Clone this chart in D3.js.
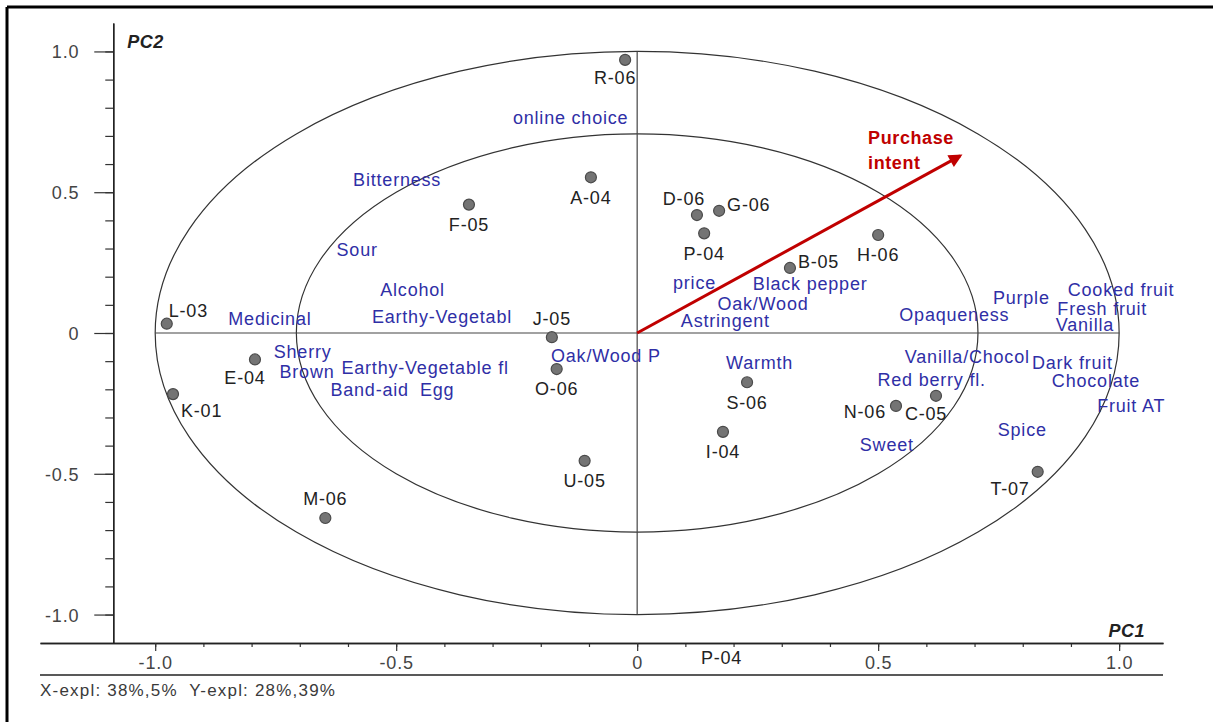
<!DOCTYPE html>
<html>
<head>
<meta charset="utf-8">
<script src="https://cdn.jsdelivr.net/npm/d3@7"></script>
<style>
  body { margin: 0; background: #fff; }
  svg text { font-family: "Liberation Sans", Arial, sans-serif; }
</style>
</head>
<body>
<svg id="chart" width="1213" height="722"></svg>
<script>
// samples (scores)
let sampleNames = ["R-06","A-04","F-05","D-06","G-06","P-04","H-06","B-05","L-03","E-04","K-01","M-06","J-05","O-06","U-05","S-06","I-04","N-06","C-05","T-07"];
let sampleX = [-0.025,-0.096,-0.349,0.124,0.170,0.139,0.500,0.317,-0.976,-0.793,-0.963,-0.647,-0.177,-0.167,-0.109,0.228,0.178,0.537,0.620,0.831];
let sampleY = [0.970,0.553,0.456,0.419,0.434,0.354,0.348,0.231,0.033,-0.094,-0.217,-0.657,-0.015,-0.128,-0.454,-0.175,-0.351,-0.259,-0.223,-0.493];
let samplePlace = ["bl","b","b","al","r","b","b","r","ur","bl","br","a","a","b","b","b","b","l","bl","bll"];

// attributes (loadings)
let attrNames = ["online choice","Bitterness","Sour","Alcohol","Earthy-Vegetabl","Medicinal","Sherry","Brown","Earthy-Vegetable fl","Band-aid","Egg","Oak/Wood P","price","Black pepper","Oak/Wood","Astringent","Warmth","Opaqueness","Purple","Cooked fruit","Fresh fruit","Vanilla","Vanilla/Chocol","Dark fruit","Red berry fl.","Chocolate","Fruit AT","Spice","Sweet"];
let attrX = [-0.138,-0.498,-0.581,-0.466,-0.405,-0.762,-0.694,-0.685,-0.440,-0.555,-0.415,-0.065,0.119,0.359,0.261,0.183,0.254,0.658,0.797,1.004,0.965,0.929,0.685,0.903,0.611,0.952,1.025,0.799,0.518];
let attrY = [0.766,0.544,0.295,0.153,0.058,0.052,-0.066,-0.137,-0.122,-0.202,-0.202,-0.082,0.177,0.174,0.105,0.043,-0.105,0.064,0.127,0.153,0.088,0.030,-0.084,-0.106,-0.165,-0.171,-0.259,-0.345,-0.395];

// purchase intent vector
let intent = {name: ["Purchase","intent"], x: 0.670, y: 0.629};
let radii = [1, Math.SQRT1_2];
let majorTicks = [-1, -0.5, 0, 0.5, 1];
let minorTicks = d3.range(-10, 11).map(d => d / 10);
let explText = "X-expl: 38%,5%  Y-expl: 28%,39%";

let svg = d3.select("#chart");
let x = d3.scaleLinear().domain([-1.239, 1.091]).range([40, 1163]);
let y = d3.scaleLinear().domain([-1.101, 1.101]).range([643, 23]);

let blue = "#2f2fa6", dark = "#222", grey = "#3a3a3a";
let fontSize = 18, spacing = 0.8;

// frame (only top and left edges visible)
svg.append("line").attr("x1",7).attr("y1",7).attr("x2",1213).attr("y2",7).attr("stroke","#000").attr("stroke-width",3);
svg.append("line").attr("x1",7).attr("y1",7).attr("x2",7).attr("y2",722).attr("stroke","#000").attr("stroke-width",3);

// axes
let yAxisX = x(-1.087), xAxisY = y(-1.101);
let yMinor = svg.append("g").attr("transform","translate("+yAxisX+",0)")
  .call(d3.axisLeft(y).tickValues(minorTicks).tickSize(8).tickSizeOuter(0).tickFormat(""));
let yMajor = svg.append("g").attr("transform","translate("+yAxisX+",0)")
  .call(d3.axisLeft(y).tickValues(majorTicks).tickSize(19).tickSizeOuter(0).tickPadding(15)
    .tickFormat(d => d === 0 ? "0" : d.toFixed(1)));
let xMinor = svg.append("g").attr("transform","translate(0,"+xAxisY+")")
  .call(d3.axisBottom(x).tickValues(minorTicks).tickSize(4).tickSizeOuter(0).tickFormat(""));
let xMajor = svg.append("g").attr("transform","translate(0,"+xAxisY+")")
  .call(d3.axisBottom(x).tickValues(majorTicks).tickSize(8).tickSizeOuter(0).tickPadding(5)
    .tickFormat(d => d === 0 ? "0" : d.toFixed(1)));
[yMinor,yMajor,xMinor,xMajor].forEach(function(g){
  g.selectAll("path.domain").attr("stroke","#222").attr("stroke-width",1.4);
  g.selectAll(".tick line").attr("stroke","#333").attr("stroke-width",1.2);
  g.selectAll(".tick text").attr("font-size",fontSize).attr("fill","#444")
    .attr("letter-spacing",spacing).attr("font-family","Liberation Sans, Arial, sans-serif");
});
yMajor.selectAll(".tick text").attr("dy","0.36em");

// separator under the x tick labels
svg.append("line").attr("x1",x.range()[0]).attr("x2",x.range()[1])
  .attr("y1",xAxisY+32).attr("y2",xAxisY+32).attr("stroke","#222").attr("stroke-width",1.4);
svg.append("text").attr("x",x.range()[0]).attr("y",xAxisY+53).attr("font-size",17)
  .attr("letter-spacing",1.2).attr("fill",grey).style("white-space","pre").text(explText);

// axis titles
svg.append("text").attr("x",yAxisX+14).attr("y",y(1.101)+25).attr("font-size",18)
  .attr("font-weight","bold").attr("font-style","italic").attr("letter-spacing",0.5).attr("fill",dark).text("PC2");
svg.append("text").attr("x",x.range()[1]-18).attr("y",xAxisY-6).attr("text-anchor","end").attr("font-size",18)
  .attr("font-weight","bold").attr("font-style","italic").attr("letter-spacing",0.5).attr("fill",dark).text("PC1");

// correlation ellipses
svg.selectAll(".ring").data(radii).enter().append("ellipse")
  .attr("class","ring")
  .attr("cx",x(0)).attr("cy",y(0))
  .attr("rx",d => x(d) - x(0)).attr("ry",d => y(0) - y(d))
  .attr("fill","none").attr("stroke","#333").attr("stroke-width",1.2);

// cross lines
svg.append("line").attr("x1",x(-1)).attr("x2",x(1)).attr("y1",y(0)).attr("y2",y(0)).attr("stroke","#444").attr("stroke-width",1.2);
svg.append("line").attr("x1",x(0)).attr("x2",x(0)).attr("y1",y(1)).attr("y2",y(-1)).attr("stroke","#444").attr("stroke-width",1.2);

// attribute labels
svg.selectAll(".attr").data(attrNames).enter().append("text")
  .attr("class","attr")
  .attr("x",(d,i) => x(attrX[i])).attr("y",(d,i) => y(attrY[i]))
  .attr("dy","0.35em").attr("text-anchor","middle")
  .attr("font-size",fontSize).attr("letter-spacing",spacing).attr("fill",blue)
  .text(d => d);

// purchase intent arrow
svg.append("defs").append("marker").attr("id","head")
  .attr("viewBox","0 0 10 10").attr("refX",8).attr("refY",5)
  .attr("markerWidth",6).attr("markerHeight",4.5).attr("orient","auto")
  .append("path").attr("d","M0,0L10,5L0,10z").attr("fill","#c00000");
svg.append("line").attr("x1",x(0)).attr("y1",y(0)).attr("x2",x(intent.x)).attr("y2",y(intent.y))
  .attr("stroke","#c00000").attr("stroke-width",3).attr("marker-end","url(#head)");
svg.selectAll(".intent").data(intent.name).enter().append("text")
  .attr("class","intent")
  .attr("x",x(intent.x) - 92).attr("y",(d,i) => y(intent.y) - 18 + i*25)
  .attr("dy","0.35em").attr("font-size",18).attr("font-weight","bold")
  .attr("letter-spacing",0.6).attr("fill","#c00000").text(d => d);

// samples
let place = {
  b:   {a:"middle", dx:0,   dy:20},
  a:   {a:"middle", dx:0,   dy:-19},
  bl:  {a:"middle", dx:-10, dy:18},
  bll: {a:"end",    dx:-8,  dy:17},
  al:  {a:"middle", dx:-13, dy:-16},
  r:   {a:"start",  dx:8,   dy:-6},
  ur:  {a:"start",  dx:2,   dy:-13},
  br:  {a:"start",  dx:8,   dy:17},
  l:   {a:"end",    dx:-10, dy:6}
};
svg.selectAll(".pt").data(sampleNames).enter().append("circle")
  .attr("class","pt")
  .attr("cx",(d,i) => x(sampleX[i])).attr("cy",(d,i) => y(sampleY[i]))
  .attr("r",5.5).attr("fill","#747474").attr("stroke","#4a4a4a").attr("stroke-width",1.2);
svg.selectAll(".ptlab").data(sampleNames).enter().append("text")
  .attr("class","ptlab")
  .attr("x",(d,i) => x(sampleX[i]) + place[samplePlace[i]].dx)
  .attr("y",(d,i) => y(sampleY[i]) + place[samplePlace[i]].dy)
  .attr("dy","0.35em").attr("text-anchor",(d,i) => place[samplePlace[i]].a)
  .attr("font-size",fontSize).attr("letter-spacing",spacing).attr("fill",dark)
  .text(d => d);

// stray label below the axis
svg.append("text").attr("x",x(0.175)).attr("y",xAxisY+15).attr("dy","0.35em").attr("text-anchor","middle")
  .attr("font-size",fontSize).attr("letter-spacing",spacing).attr("fill",dark).text("P-04");
</script>
</body>
</html>
